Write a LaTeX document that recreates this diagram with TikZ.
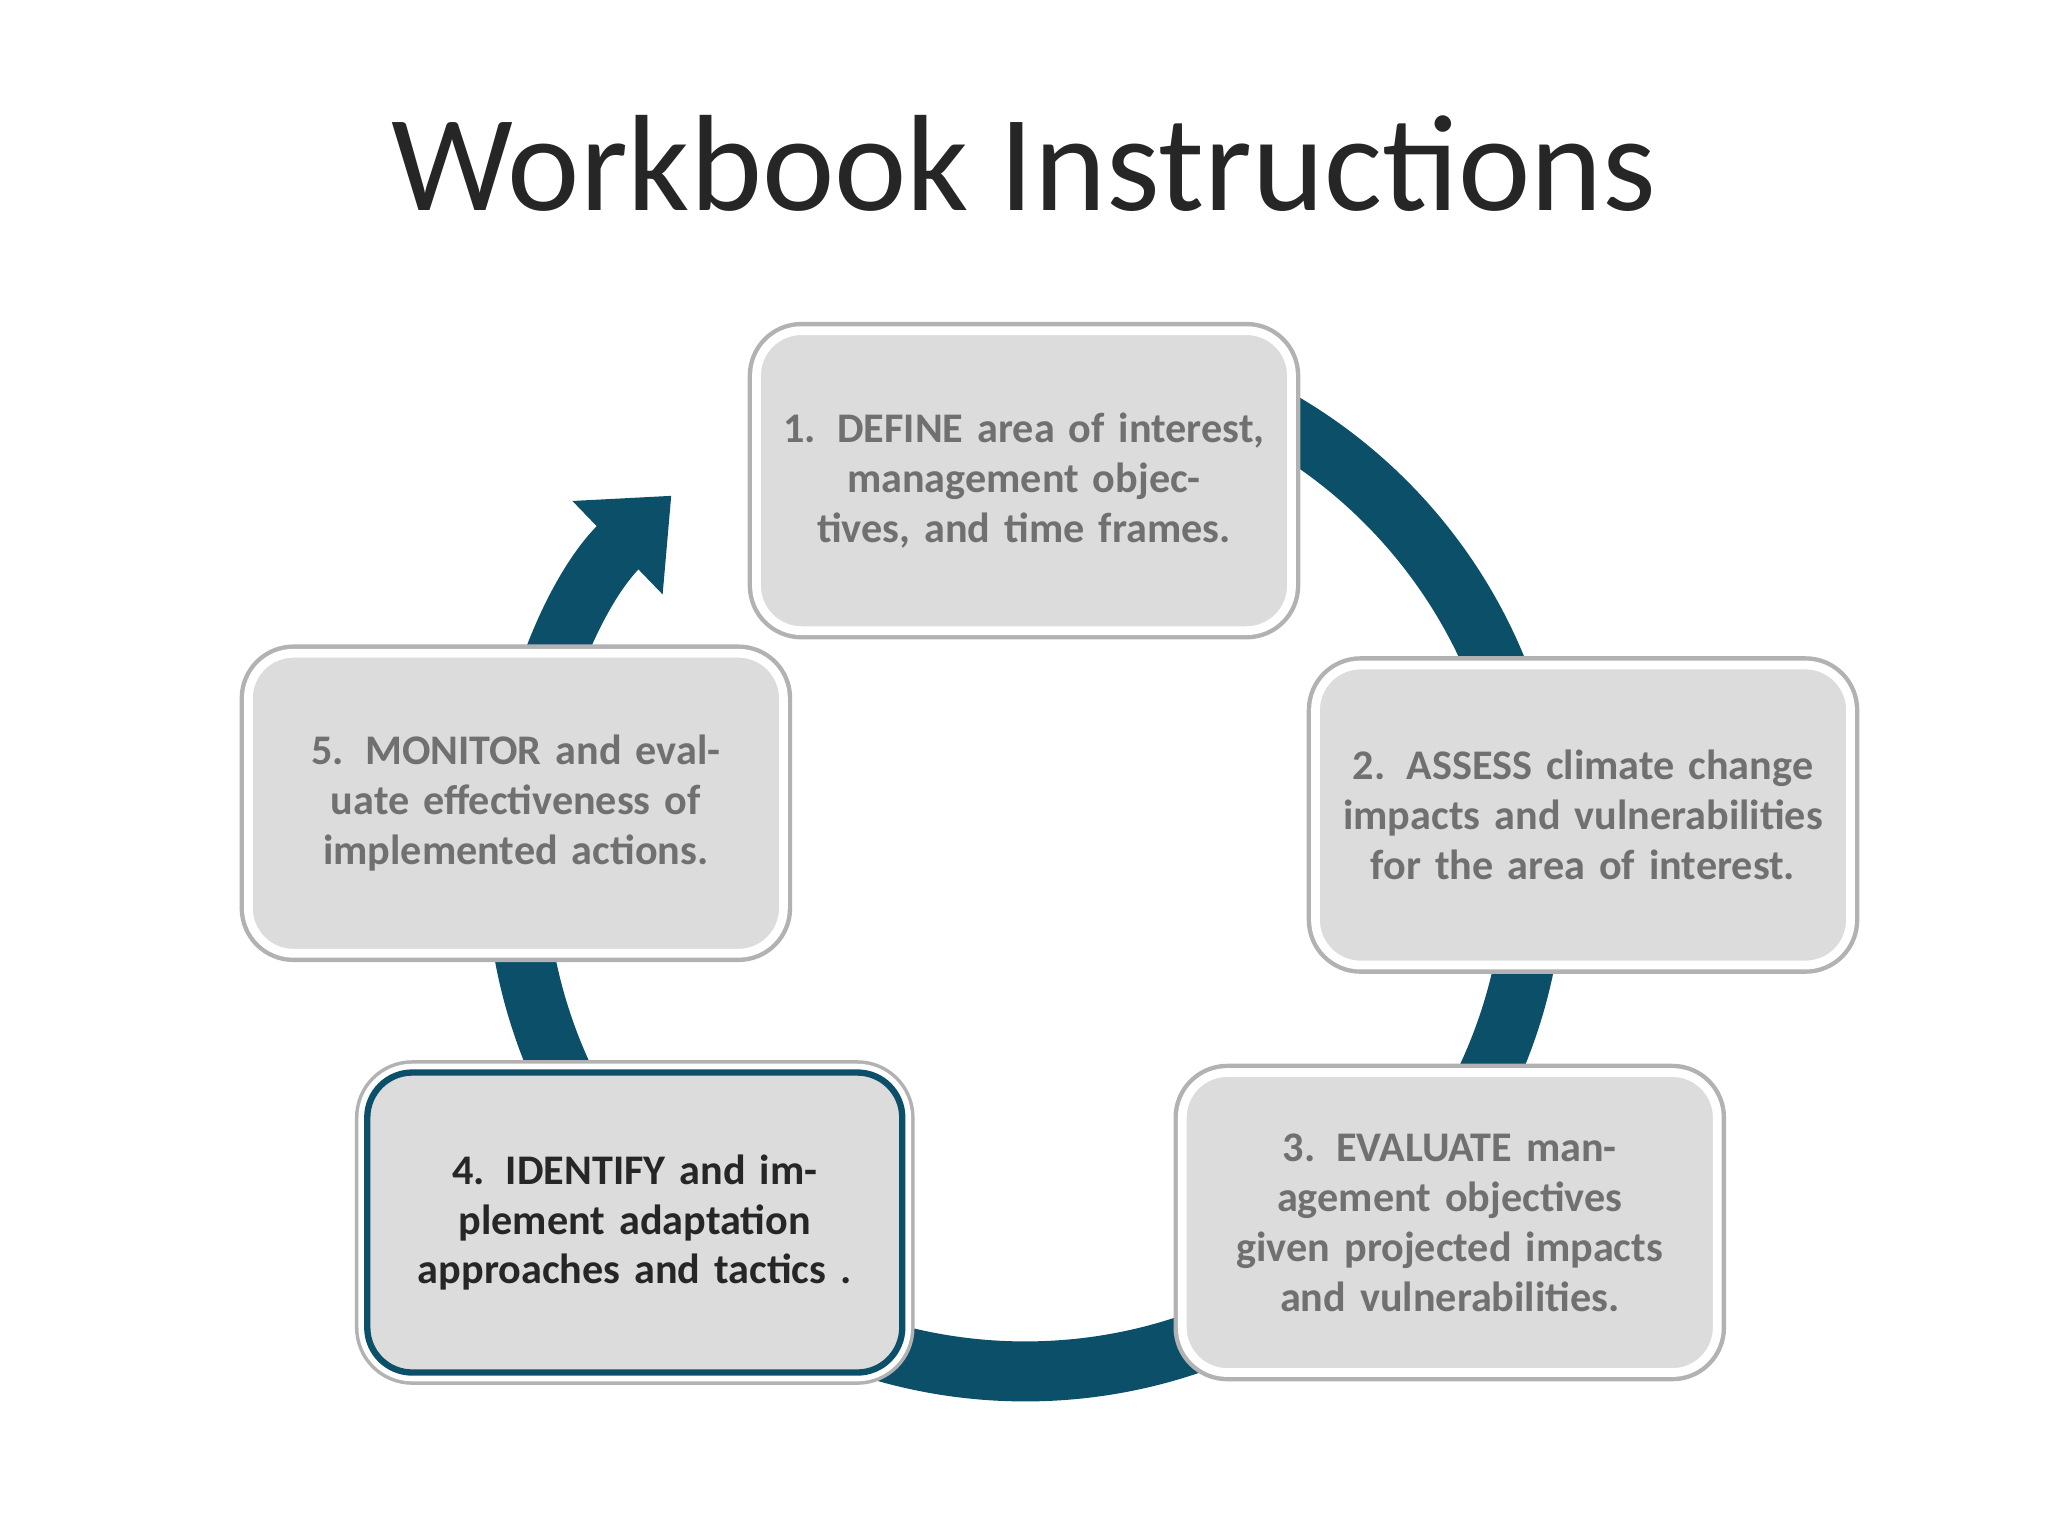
\documentclass[tikz,border=0pt]{standalone}
\usepackage{fontspec}
\setmainfont{Carlito}
\usetikzlibrary{arrows.meta}
\definecolor{ring}{HTML}{0B5068}
\definecolor{boxfill}{HTML}{DCDCDC}
\definecolor{txtgray}{HTML}{707070}
\begin{document}
\begin{tikzpicture}[x=0.01306cm,y=-0.01306cm,
  stepbox/.style={rectangle,rounded corners=0.45cm,fill=boxfill,minimum width=5.35cm,minimum height=3.0cm,
    text width=4.9cm,align=center,font=\fontsize{12}{14.2}\selectfont\bfseries,text=txtgray,
    draw=white,line width=2.5pt,preaction={draw=black!30,line width=5pt}},
  keybox/.style={stepbox,text=black!85,draw=ring,line width=1.8pt,preaction={draw=white,line width=5pt,preaction={draw=black!30,line width=7pt}}}]
\useasboundingbox (0,0) rectangle (1568,1176);
\fill[white] (0,0) rectangle (1568,1176);
\node (title) at (784,125) {\fontsize{39}{44}\selectfont\color{black!85}Workbook Instructions};
\draw[ring,line width=0.6cm,-{Triangle[width=1.25cm,length=0.75cm]}] (785,660)+(-90:390) arc[start angle=-90,end angle=226,radius=390];
\node[stepbox] (s1) at (784,368) {1. DEFINE area of interest, management objectives, and time frames.};
\node[stepbox] (s2) at (1212,624) {2. ASSESS climate change impacts and vulnerabilities for the area of interest.};
\node[stepbox] (s3) at (1110,936) {3. EVALUATE management objectives given projected impacts and vulnerabilities.};
\node[keybox] (s4) at (486,936) {4. IDENTIFY and implement adaptation approaches and tactics .};
\node[stepbox] (s5) at (395,615) {5. MONITOR and evaluate effectiveness of implemented actions.};
\end{tikzpicture}
\end{document}
